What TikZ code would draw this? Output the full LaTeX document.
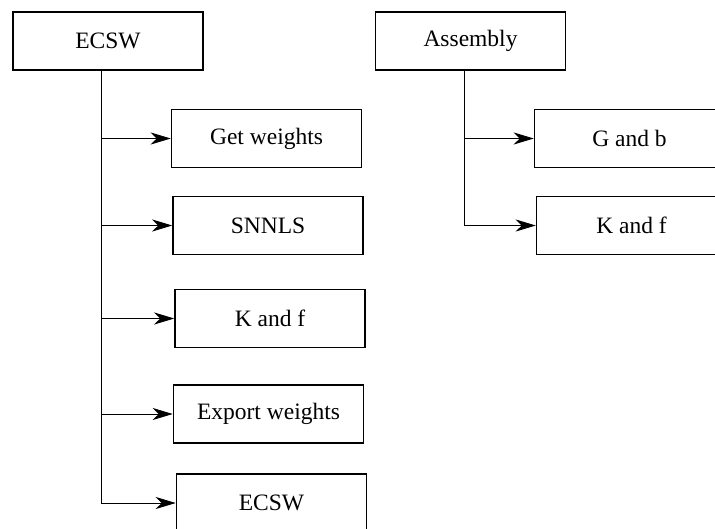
\documentclass[tikz,border=0pt]{standalone}
\usepackage{fontspec}
\setmainfont{Liberation Serif}
\usetikzlibrary{arrows.meta}
\begin{document}
\begin{tikzpicture}[x=1pt,y=-1pt,
  box/.style={draw, line width=1.5pt, minimum width=190pt, minimum height=58pt,
    inner sep=0pt, font=\fontsize{23.5}{27}\selectfont},
  link/.style={line width=0.9pt},
  feed/.style={link, -{Stealth[length=20pt,width=12pt,inset=6pt]}}]
\useasboundingbox (0,0) rectangle (715,528);
\begin{scope}
\clip (0,0) rectangle (715,528);
% left group
\node[box] (ecsw)   at (108,41)    {ECSW};
\node[box] (getw)   at (266.5,138.5) {Get weights};
\node[box] (snnls)  at (268,225.5) {SNNLS};
\node[box] (kfl)    at (270,318.5) {K and f};
\node[box] (expw)   at (268.5,414) {Export weights};
\node[box] (ecswb)  at (271.5,503) {ECSW};
% right group
\node[box] (asm)    at (470.5,41)  {Assembly};
\node[box] (gb)     at (629.5,138.5) {G and b};
\node[box] (kfr)    at (631.5,225.5) {K and f};
% trunk positions
\coordinate (lt) at (101,0);
\coordinate (rt) at (464,0);
% left tree
\draw[link] (ecsw.south -| lt) -- (ecswb.west -| lt);
\foreach \n in {getw,snnls,kfl,expw,ecswb}
  \draw[feed] (\n.west -| lt) -- (\n.west);
% right tree
\draw[link] (asm.south -| rt) -- (kfr.west -| rt);
\foreach \n in {gb,kfr}
  \draw[feed] (\n.west -| rt) -- (\n.west);
\end{scope}
\end{tikzpicture}
\end{document}
